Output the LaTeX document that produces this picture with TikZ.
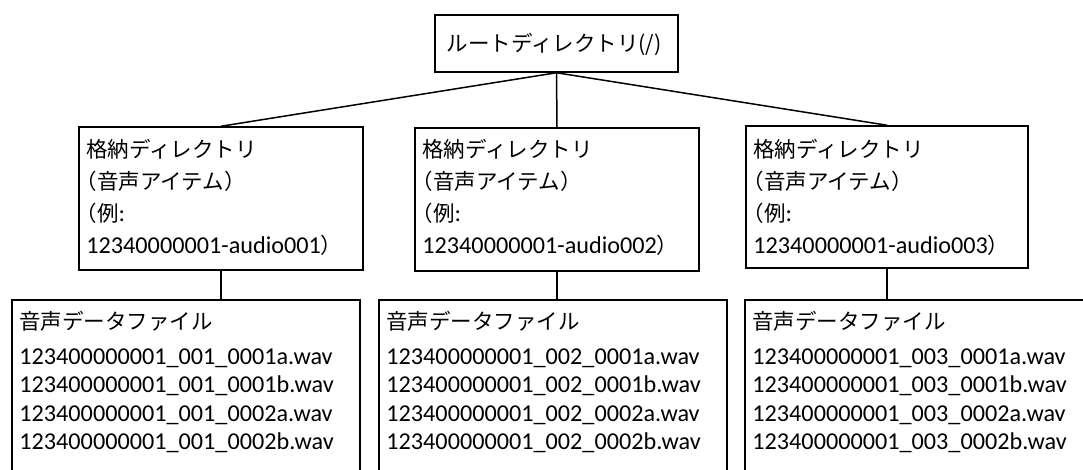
\documentclass[tikz,border=0pt]{standalone}
\usepackage{fontspec}
\setmainfont{Carlito}
\newfontfamily\jpfont{Noto Sans CJK JP}
\usetikzlibrary{fit}
\newcommand\jtxt[1]{{\jpfont\fontsize{10.75}{12}\selectfont #1}}
\newcommand\lpar{\jtxt{\hspace*{-0.5em}（}}
\begin{document}
\begin{tikzpicture}[x=0.5pt,y=-0.5pt,
  box/.style={draw=black, line width=0.75pt, inner sep=0pt},
  conn/.style={draw=black, line width=0.75pt},
  txt/.style={inner sep=0pt, anchor=base west, font=\fontsize{12.1}{14}\selectfont},
]
\clip (0,0) rectangle (1083,470);
\fill[white] (0,0) rectangle (1083,470);

% root
\node[box, fit={(435,15) (678,72)}] (root) {};
\node[inner sep=0pt, font=\fontsize{12}{14}\selectfont] (roott) at (554,44) {\jtxt{ルートディレクトリ(/)}};

% middle boxes
\node[box, fit={(79,127) (363,270)}] (ml) {};
\node[box, fit={(415,128) (699,271)}] (mm) {};
\node[box, fit={(746,126) (1028,268)}] (mr) {};

% bottom boxes
\node[box, fit={(12,300) (360,495)}] (bl) {};
\node[box, fit={(379,300) (727,495)}] (bm) {};
\node[box, fit={(745,300) (1095,495)}] (br) {};

% connectors
\draw[conn] (root.south) -- (ml.north);
\draw[conn] (root.south) -- (mm.north);
\draw[conn] (root.south) -- (mr.north);
\draw[conn] (ml.south) -- (ml.south |- bl.north);
\draw[conn] (mm.south) -- (mm.south |- bm.north);
\draw[conn] (mr.south) -- (mr.south |- br.north);

% middle texts
\node[txt] (ml1) at (86,158) {\jtxt{格納ディレクトリ}};
\node[txt] (ml2) at (86,190) {\lpar\jtxt{音声アイテム）}};
\node[txt] (ml3) at (86,222) {\lpar\jtxt{例}:};
\node[txt] (ml4) at (86,254) {12340000001-audio001\jtxt{）}};

\node[txt] (mm1) at (422,158) {\jtxt{格納ディレクトリ}};
\node[txt] (mm2) at (422,190) {\lpar\jtxt{音声アイテム）}};
\node[txt] (mm3) at (422,222) {\lpar\jtxt{例}:};
\node[txt] (mm4) at (422,254) {12340000001-audio002\jtxt{）}};

\node[txt] (mr1) at (753,158) {\jtxt{格納ディレクトリ}};
\node[txt] (mr2) at (753,190) {\lpar\jtxt{音声アイテム）}};
\node[txt] (mr3) at (753,222) {\lpar\jtxt{例}:};
\node[txt] (mr4) at (753,254) {12340000001-audio003\jtxt{）}};

% bottom texts
\node[txt] (bl0) at (19,330) {\jtxt{音声データファイル}};
\node[txt] (bl1) at (19,364.5) {123400000001\_001\_0001a.wav};
\node[txt] (bl2) at (19,393) {123400000001\_001\_0001b.wav};
\node[txt] (bl3) at (19,421.5) {123400000001\_001\_0002a.wav};
\node[txt] (bl4) at (19,450) {123400000001\_001\_0002b.wav};

\node[txt] (bm0) at (386,330) {\jtxt{音声データファイル}};
\node[txt] (bm1) at (386,364.5) {123400000001\_002\_0001a.wav};
\node[txt] (bm2) at (386,393) {123400000001\_002\_0001b.wav};
\node[txt] (bm3) at (386,421.5) {123400000001\_002\_0002a.wav};
\node[txt] (bm4) at (386,450) {123400000001\_002\_0002b.wav};

\node[txt] (br0) at (752,330) {\jtxt{音声データファイル}};
\node[txt] (br1) at (752,364.5) {123400000001\_003\_0001a.wav};
\node[txt] (br2) at (752,393) {123400000001\_003\_0001b.wav};
\node[txt] (br3) at (752,421.5) {123400000001\_003\_0002a.wav};
\node[txt] (br4) at (752,450) {123400000001\_003\_0002b.wav};
\end{tikzpicture}
\end{document}
